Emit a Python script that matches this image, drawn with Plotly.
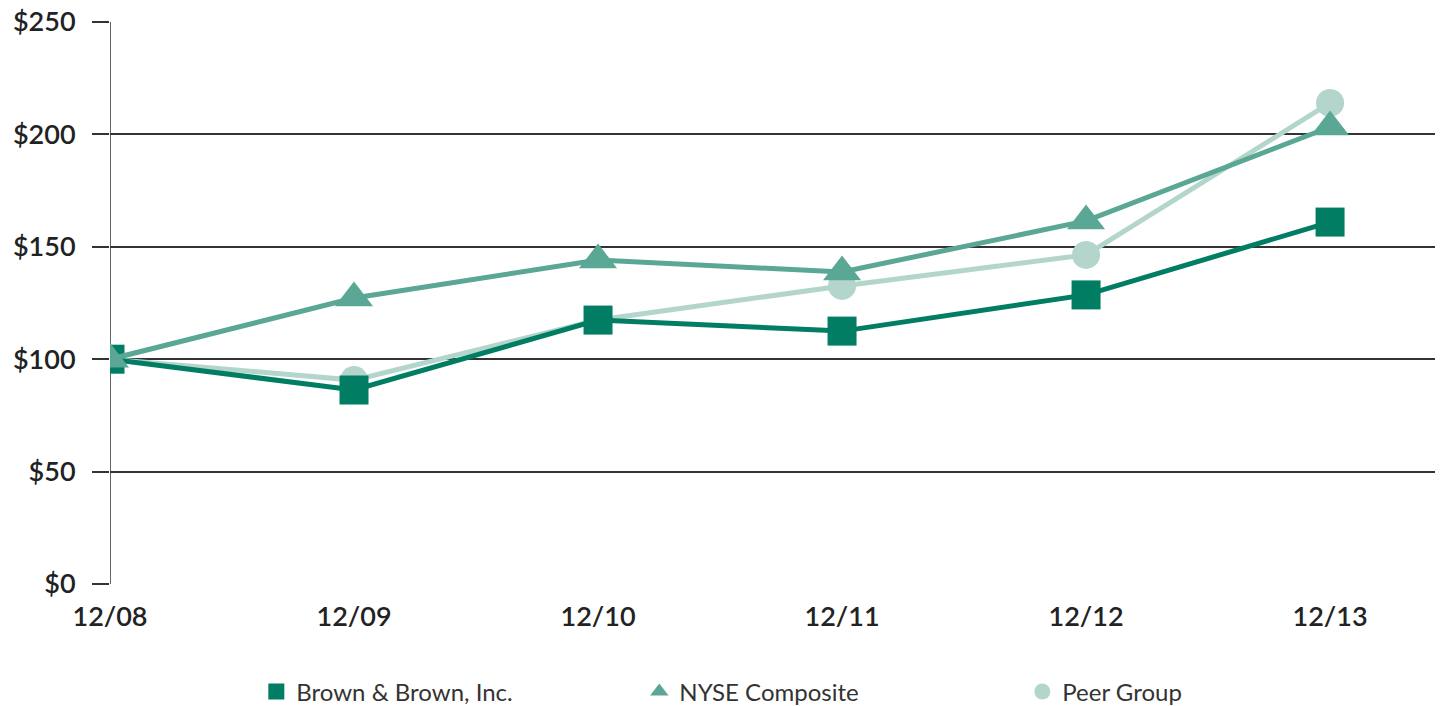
import plotly.graph_objects as go

# Five-year cumulative total return, $100 invested at 12/08
periods = ["12/08", "12/09", "12/10", "12/11", "12/12", "12/13"]
brown_brown = [100, 86.3, 117.4, 112.5, 128.6, 161.0]
nyse_composite = [100, 127.2, 144.1, 138.8, 161.5, 203.3]
peer_group = [100, 90.7, 117.4, 132.6, 146.4, 214.0]

y_ticks = [0, 50, 100, 150, 200, 250]
y_tick_text = ["$0", "$50", "$100", "$150", "$200", "$250"]

# drawing order: peer group at the back, NYSE composite in front
series = [
    ("Peer Group", peer_group, "#b3d5cc", "circle", 28),
    ("Brown & Brown, Inc.", brown_brown, "#007d63", "square", 29),
    ("NYSE Composite", nyse_composite, "#5ba795", "triangle-up", 33),
]
legend_order = ["Brown & Brown, Inc.", "NYSE Composite", "Peer Group"]

x_idx = list(range(len(periods)))
fig = go.Figure()

for name, vals, color, symbol, size in series:
    fig.add_trace(go.Scatter(
        x=x_idx, y=vals, mode="lines+markers", name=name,
        line=dict(color=color, width=5),
        marker=dict(symbol=symbol, size=size, color=color, line=dict(width=0)),
        showlegend=False, hoverinfo="skip",
    ))

# marker-only entries for the legend
style = {s[0]: s for s in series}
for name in legend_order:
    _, _, color, symbol, size = style[name]
    fig.add_trace(go.Scatter(
        x=[None], y=[None], mode="markers", name=name,
        marker=dict(symbol=symbol, size=size, color=color, line=dict(width=0)),
        showlegend=True,
    ))

tick_font = dict(size=27, family="Lato", weight=600, color="#222222")

fig.update_layout(
    width=1440, height=706,
    margin=dict(l=110, r=5, t=22, b=122, autoexpand=False),
    plot_bgcolor="white", paper_bgcolor="white",
    font=dict(family="Lato", color="#222222"),
    legend=dict(
        orientation="h", xref="container", x=0.178, xanchor="left",
        yref="container", y=0.02, yanchor="middle",
        entrywidth=338, entrywidthmode="pixels",
        font=dict(size=24, color="#333333"), itemsizing="trace",
        traceorder="normal",
    ),
)

fig.update_xaxes(
    range=[0, 5.43], tickvals=x_idx, ticktext=periods,
    showgrid=False, zeroline=False, showline=False,
    ticks="", ticklabelstandoff=14,
    tickfont=tick_font,
)
fig.update_yaxes(
    range=[0, 250], tickvals=y_ticks, ticktext=y_tick_text,
    showgrid=True, gridcolor="#333333", gridwidth=1.5,
    zeroline=False, showline=False,
    ticks="outside", ticklen=17, tickcolor="#333333", tickwidth=1.5,
    ticklabelstandoff=11,
    tickfont=tick_font,
)

# vertical axis line at the first period
fig.add_shape(type="line", xref="x", yref="y", x0=0, x1=0, y0=0, y1=250,
              line=dict(color="#333333", width=1.5), layer="below")

fig.write_html("out.html")
